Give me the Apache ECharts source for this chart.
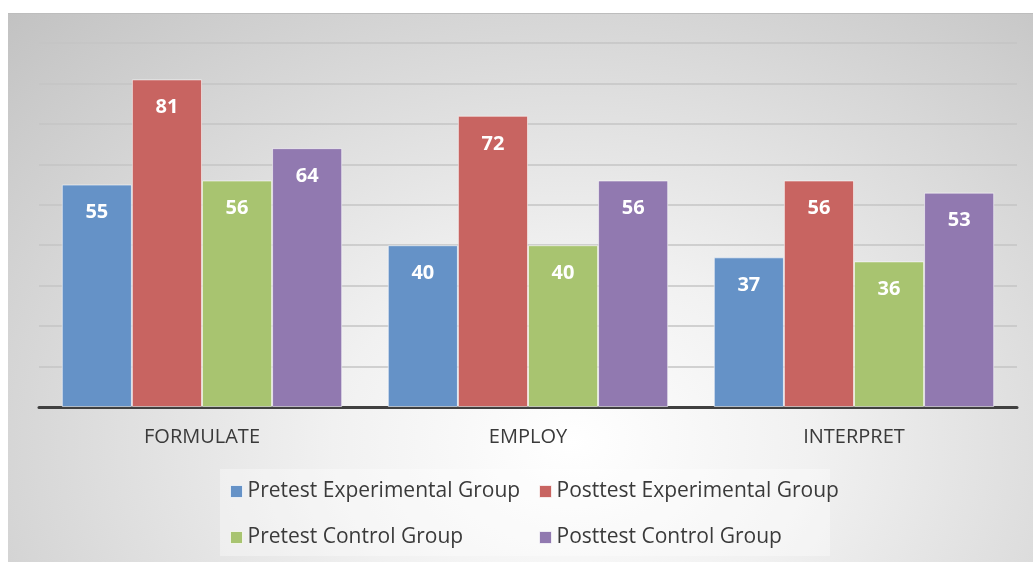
<!DOCTYPE html>
<html>
<head>
<meta charset="utf-8">
<script src="https://cdn.jsdelivr.net/npm/echarts@6/dist/echarts.min.js"></script>
<style>
  html, body { margin: 0; padding: 0; background: #fff; }
  .card {
    position: absolute;
    left: 8px;
    top: 13px;
    width: 1025px;
    height: 549px;
    border-top: 1px solid #bdbdbd;
    background: radial-gradient(ellipse at 55% 78%, #ffffff 0%, #f1f1f1 30%, #c2c2c2 100%);
  }
  #chart { width: 1025px; height: 549px; }
</style>
</head>
<body>
<div class="card"><div id="chart"></div></div>
<script>
// categories and series
const categories = ['FORMULATE', 'EMPLOY', 'INTERPRET']
const pretestExp = [55, 40, 37]
const posttestExp = [81, 72, 56]
const pretestCtrl = [56, 40, 36]
const posttestCtrl = [64, 56, 53]
const seriesNames = ['Pretest Experimental Group', 'Posttest Experimental Group', 'Pretest Control Group', 'Posttest Control Group']

const chart = echarts.init(document.getElementById('chart'))

const labelStyle = {
  show: true,
  position: 'insideTop',
  distance: 18,
  color: '#fff',
  fontSize: 20,
  fontWeight: 'bold',
  fontFamily: 'Open Sans'
}

function makeBar(name, data, color) {
  return {
    name: name,
    type: 'bar',
    data: data,
    barGap: '0%',
    barCategoryGap: '14%',
    itemStyle: {
      color: color,
      borderColor: 'rgba(255,255,255,0.55)',
      borderWidth: 1
    },
    label: labelStyle
  }
}

const legendText = {
  fontSize: 21,
  color: '#3a3a3a',
  fontFamily: 'Open Sans'
}

const options = {
  animation: false,
  graphic: [
    {
      type: 'rect',
      left: 212,
      top: 455,
      shape: { width: 610, height: 87 },
      style: { fill: 'rgba(255,255,255,0.35)' },
      z: 0
    }
  ],
  grid: {
    left: 31,
    right: 16,
    top: 29,
    bottom: 156
  },
  legend: [
    {
      orient: 'vertical',
      left: 217,
      top: 462,
      itemGap: 25,
      itemWidth: 12,
      itemHeight: 12,
      itemStyle: { borderColor: 'rgba(255,255,255,0.7)', borderWidth: 1 },
      icon: 'rect',
      data: [seriesNames[0], seriesNames[2]],
      textStyle: legendText
    },
    {
      orient: 'vertical',
      left: 526,
      top: 462,
      itemGap: 25,
      itemWidth: 12,
      itemHeight: 12,
      itemStyle: { borderColor: 'rgba(255,255,255,0.7)', borderWidth: 1 },
      icon: 'rect',
      data: [seriesNames[1], seriesNames[3]],
      textStyle: legendText
    }
  ],
  xAxis: {
    type: 'category',
    data: categories,
    axisLine: { lineStyle: { color: '#404040', width: 3 } },
    axisTick: { show: false },
    axisLabel: {
      color: '#3a3a3a',
      fontSize: 20,
      margin: 20,
      fontFamily: 'Open Sans'
    }
  },
  yAxis: {
    type: 'value',
    min: 0,
    max: 90,
    interval: 10,
    axisLabel: { show: false },
    axisLine: { show: false },
    axisTick: { show: false },
    splitLine: { lineStyle: { color: '#c4c4c4', width: 1.5 } }
  },
  series: [
    makeBar(seriesNames[0], pretestExp, '#6592c7'),
    makeBar(seriesNames[1], posttestExp, '#c86461'),
    makeBar(seriesNames[2], pretestCtrl, '#a8c470'),
    makeBar(seriesNames[3], posttestCtrl, '#9179b0')
  ]
}

chart.setOption(options)
</script>
</body>
</html>
